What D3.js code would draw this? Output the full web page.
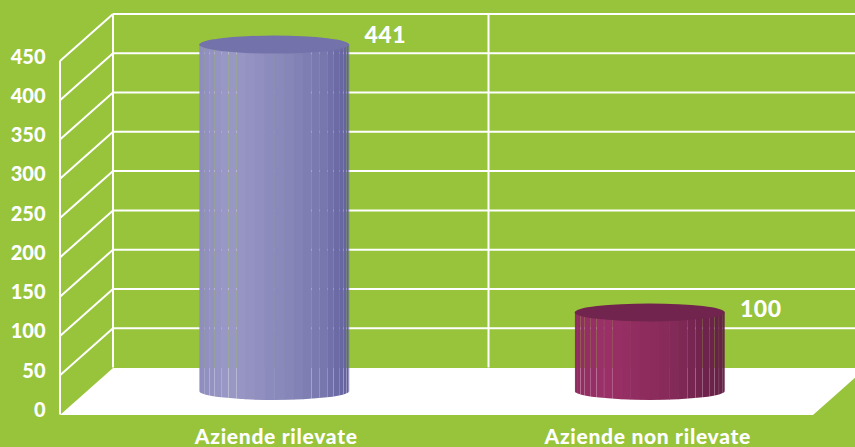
<!DOCTYPE html>
<html>
<head>
<meta charset="utf-8">
<script src="https://cdn.jsdelivr.net/npm/d3@7"></script>
<style>
html, body { margin: 0; padding: 0; background: #97c43a; overflow: hidden; }
text { font-family: Lato, "Open Sans", sans-serif; font-weight: 900; fill: #fff; }
</style>
</head>
<body>
<script>
var categories = ["Aziende rilevate", "Aziende non rilevate"];
var values = [441, 100];
var yTicks = [0, 50, 100, 150, 200, 250, 300, 350, 400, 450];
var sideColors = [
    ["#8e8dbe", "#9a99c6", "#8e8dbe", "#8584b8", "#7776ad", "#62609c"],
    ["#8f2d60", "#9b3168", "#8f2c5f", "#872b5a", "#72244f", "#632145"]
];
var topColors = ["#7472aa", "#71254e"];

var width = 855, height = 447;
var depthX = 53, depthY = -47;

var svg = d3.select("body").append("svg")
    .attr("width", width)
    .attr("height", height);

// front plane scales, the back wall is the same thing shifted by depth
var y = d3.scaleLinear().domain([0, 450]).range([414.5, 61]);
var x = d3.scaleBand().domain(categories).range([60, 811]);
var barW = 150, ry = 9;

//Draw the floor
svg.append("polygon")
    .attr("points", [[60, 415], [813, 415], [813 + depthX, 415 + depthY], [60 + depthX, 415 + depthY]].join(" "))
    .style("fill", "#fff");

//Grid lines on the back wall and on the left wall
var grid = svg.append("g")
    .style("stroke", "#fff")
    .style("stroke-width", "2px")
    .style("fill", "none");

grid.selectAll(".back")
    .data(yTicks.slice(1))
    .enter().append("line")
    .attr("x1", 60 + depthX).attr("x2", width + 20)
    .attr("y1", function(d) { return y(d) + depthY; })
    .attr("y2", function(d) { return y(d) + depthY; });

grid.selectAll(".side")
    .data(yTicks.slice(1))
    .enter().append("line")
    .attr("x1", 60).attr("x2", 60 + depthX)
    .attr("y1", function(d) { return y(d); })
    .attr("y2", function(d) { return y(d) + depthY; });

// wall edges
grid.append("line").attr("x1", 60).attr("x2", 60).attr("y1", y(0)).attr("y2", y(450));
grid.append("line").attr("x1", 60 + depthX).attr("x2", 60 + depthX).attr("y1", y(0) + depthY).attr("y2", y(450) + depthY);
grid.append("line").attr("x1", x(categories[1]) + depthX).attr("x2", x(categories[1]) + depthX).attr("y1", y(0) + depthY).attr("y2", y(450) + depthY);

// y tick labels
svg.selectAll(".tick-label")
    .data(yTicks)
    .enter().append("text")
    .attr("x", 45.5)
    .attr("y", function(d) { return y(d) + 2.5; })
    .attr("text-anchor", "end")
    .style("font-size", "20px")
    .text(function(d) { return d; });

// cylinders, sides are built out of thin strips like the original
var facets = d3.range(0, 24);
// strips next to these stay apart a little so the seam shows through
var hasSeam = function(k) { return (k >= 2 && k <= 7) || (k >= 15 && k <= 22); };
categories.forEach(function(c, i) {
    var cx = x(c) + x.bandwidth() / 2 + depthX / 2;
    var base = y(0) + depthY / 2;
    var top = y(values[i]) + depthY / 2;
    var color = d3.scaleLinear().domain([0, .17, .4, .6, .8, 1]).range(sideColors[i]);
    var px = function(k) { return cx - barW / 2 * Math.cos(Math.PI * k / facets.length); };
    var bar = svg.append("g");
    var clipId = "body" + i;
    svg.append("clipPath").attr("id", clipId).append("path")
        .attr("d", "M" + (cx - barW / 2) + "," + top + "L" + (cx + barW / 2) + "," + top +
            "L" + (cx + barW / 2) + "," + base +
            "A" + barW / 2 + "," + ry + " 0 0 1 " + (cx - barW / 2) + "," + base + "Z");
    bar.append("g").attr("clip-path", "url(#" + clipId + ")")
        .selectAll("rect")
        .data(facets)
        .enter().append("rect")
        .attr("x", function(k) { return px(k); })
        .attr("y", top)
        .attr("width", function(k) { return px(k + 1) - px(k) + (hasSeam(k) ? -.15 : .5); })
        .attr("height", base - top + ry)
        .style("fill", function(k) { return color((px(k) - cx + barW / 2) / barW); });
    bar.append("ellipse")
        .attr("cx", cx).attr("cy", top)
        .attr("rx", barW / 2).attr("ry", ry)
        .style("fill", topColors[i]);
    svg.append("text")
        .attr("x", cx + [111, 111][i])
        .attr("y", top + [-2, 5][i])
        .attr("text-anchor", "middle")
        .style("font-size", "23px")
        .style("letter-spacing", ".5px")
        .text(values[i]);
    svg.append("text")
        .attr("x", cx + [2, -2][i])
        .attr("y", 444)
        .attr("text-anchor", "middle")
        .style("font-size", "21px")
        .style("letter-spacing", ".7px")
        .text(c);
});
</script>
</body>
</html>
